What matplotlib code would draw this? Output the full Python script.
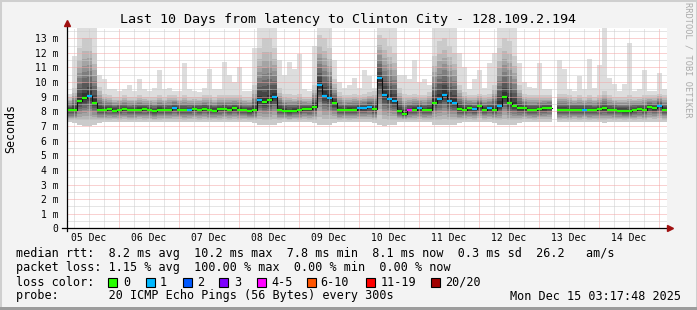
import numpy as np
import matplotlib
matplotlib.use('Agg')
import matplotlib.pyplot as plt
import matplotlib.dates as mdates
from matplotlib.collections import LineCollection
from matplotlib.patches import Rectangle
from matplotlib.ticker import MultipleLocator, FuncFormatter
from datetime import datetime, timedelta

plt.rcParams['font.family'] = 'DejaVu Sans Mono'

W, H = 697, 310

# time range of the graph, one column = 2 hours
start = datetime(2025, 12, 5, 3, 17, 48)
end = datetime(2025, 12, 15, 3, 17, 48)
step_hours = 2

# median rtt per column (ms)
med_ms = [8.07, 8.1, 8.68, 8.9, 9.05, 8.6, 8.12, 8.1, 8.15, 8.05,
          8.12, 8.15, 8.08, 8.1, 8.12, 8.15, 8.1, 8.0, 8.12, 8.1,
          8.1, 8.25, 8.12, 8.1, 8.1, 8.15, 8.12, 8.18, 8.1, 8.05,
          8.15, 8.18, 8.12, 8.2, 8.12, 8.08, 8.05, 8.1, 8.8, 8.65,
          8.75, 8.98, 8.12, 8.05, 8.0, 8.05, 8.08, 8.18, 8.15, 8.3,
          9.8, 9.05, 8.9, 8.55, 8.1, 8.1, 8.12, 8.1, 8.2, 8.2,
          8.3, 8.15, 10.25, 9.1, 8.87, 8.68, 8.05, 7.85, 8.1, 8.12,
          8.2, 8.1, 8.12, 8.6, 8.87, 9.15, 8.7, 8.6, 8.15, 8.12,
          8.2, 8.14, 8.35, 8.12, 8.2, 8.12, 8.4, 8.98, 8.57, 8.4,
          8.2, 8.2, 8.1, 8.1, 8.15, 8.2, 8.25, np.nan, 8.1, 8.1,
          8.1, 8.12, 8.1, 8.12, 8.1, 8.08, 8.15, 8.2, 8.1, 8.1,
          8.05, 8.05, 8.0, 8.1, 8.15, 8.1, 8.3, 8.2, 8.38, 8.12]

# lost pings per column (of 20)
loss = [0, 0, 0, 0, 1, 0, 0, 0, 0, 0,
        0, 0, 0, 0, 0, 0, 0, 0, 0, 0,
        0, 1, 0, 0, 1, 0, 0, 0, 0, 0,
        0, 0, 0, 0, 0, 0, 0, 0, 1, 0,
        0, 1, 0, 0, 0, 0, 0, 0, 0, 0,
        1, 1, 1, 0, 0, 0, 0, 0, 1, 1,
        1, 0, 1, 1, 1, 1, 0, 0, 4, 0,
        1, 0, 0, 0, 1, 1, 1, 1, 0, 0,
        0, 1, 0, 0, 1, 0, 1, 0, 0, 0,
        0, 0, 0, 0, 0, 0, 0, 0, 0, 0,
        0, 0, 0, 1, 0, 0, 0, 0, 0, 0,
        0, 0, 0, 0, 0, 0, 0, 0, 1, 0]

# slowest ping per column (ms)
max_ms = [9.2, 11.8, 13.7, 13.7, 13.7, 13.7, 10.5, 10.2, 9.5, 9.5,
          9.4, 9.5, 9.8, 9.4, 10.2, 9.5, 9.4, 9.6, 10.8, 9.5,
          9.6, 9.4, 9.4, 11.3, 9.5, 9.4, 9.3, 9.6, 10.9, 9.5,
          9.5, 11.35, 10.5, 10.0, 11.0, 9.4, 9.4, 12.3, 13.7, 13.7,
          13.7, 13.7, 11.5, 10.5, 11.36, 10.9, 11.95, 9.5, 9.4, 12.5,
          13.7, 13.7, 13.7, 11.5, 10.0, 9.6, 9.8, 10.3, 9.6, 10.8,
          10.4, 9.6, 13.7, 13.7, 13.7, 13.7, 10.5, 10.5, 10.2, 11.5,
          10.0, 10.2, 9.8, 13.7, 13.7, 13.7, 13.7, 13.7, 12.0, 11.0,
          9.5, 10.2, 10.8, 9.6, 11.3, 12.0, 13.7, 13.7, 13.7, 13.7,
          11.3, 10.0, 9.7, 9.6, 11.3, 9.5, 9.5, np.nan, 11.5, 10.9,
          9.5, 9.4, 10.4, 9.5, 11.55, 9.6, 11.2, 13.7, 10.3, 9.9,
          9.4, 9.9, 12.7, 9.4, 9.5, 10.8, 9.4, 9.4, 10.6, 9.5]

# upper edge of the dense smoke (ms)
upper_ms = [9.0, 9.6, 12.3, 13.0, 13.0, 12.0, 9.7, 9.2, 9.1, 9.0,
            9.0, 9.1, 9.0, 9.0, 9.1, 9.0, 9.0, 9.0, 9.1, 9.0,
            9.1, 9.1, 9.0, 9.1, 9.0, 9.0, 9.0, 9.1, 9.1, 9.0,
            9.1, 9.1, 9.1, 9.1, 9.1, 9.0, 9.0, 9.8, 12.3, 13.0,
            13.0, 12.3, 9.6, 9.2, 9.2, 9.1, 9.2, 9.0, 9.0, 9.8,
            13.2, 13.0, 12.3, 10.2, 9.3, 9.1, 9.1, 9.2, 9.1, 9.2,
            9.3, 9.4, 13.2, 13.0, 12.5, 12.0, 9.6, 9.2, 9.1, 9.2,
            9.1, 9.1, 9.3, 11.8, 12.8, 13.0, 12.5, 12.0, 9.8, 9.3,
            9.1, 9.1, 9.2, 9.1, 9.2, 9.8, 12.3, 13.0, 12.8, 11.8,
            9.8, 9.2, 9.1, 9.1, 9.1, 9.1, 9.1, np.nan, 9.2, 9.2,
            9.1, 9.0, 9.1, 9.0, 9.1, 9.0, 9.1, 9.4, 9.1, 9.0,
            9.0, 9.0, 9.1, 9.0, 9.0, 9.1, 9.1, 9.1, 9.2, 9.1]

# fastest ping per column (ms)
min_ms = [7.25, 7.2, 7.05, 7.0, 7.0, 7.05, 7.2, 7.25, 7.25, 7.3,
          7.25, 7.3, 7.25, 7.25, 7.3, 7.25, 7.3, 7.25, 7.25, 7.3,
          7.3, 7.25, 7.3, 7.25, 7.3, 7.3, 7.25, 7.3, 7.25, 7.3,
          7.25, 7.3, 7.25, 7.3, 7.25, 7.3, 7.25, 7.2, 7.1, 7.05,
          7.05, 7.1, 7.2, 7.3, 7.25, 7.3, 7.25, 7.3, 7.25, 7.2,
          7.05, 7.05, 7.1, 7.2, 7.25, 7.3, 7.25, 7.3, 7.25, 7.3,
          7.25, 7.2, 7.05, 7.0, 7.05, 7.1, 7.25, 7.3, 7.25, 7.25,
          7.3, 7.25, 7.25, 7.1, 7.05, 7.05, 7.05, 7.1, 7.2, 7.25,
          7.3, 7.25, 7.3, 7.25, 7.3, 7.2, 7.1, 7.05, 7.05, 7.1,
          7.2, 7.25, 7.3, 7.25, 7.3, 7.25, 7.3, np.nan, 7.25, 7.3,
          7.25, 7.3, 7.25, 7.3, 7.25, 7.3, 7.25, 7.2, 7.3, 7.25,
          7.3, 7.25, 7.3, 7.25, 7.3, 7.25, 7.3, 7.25, 7.3, 7.25]

loss_legend = ['0', '1', '2', '3', '4-5', '6-10', '11-19', '20/20']
loss_colors = ['#26ff00', '#00b8ff', '#0059ff', '#7e00ff',
               '#ff00ff', '#ff5500', '#ff0000', '#a10000']
loss_limits = [0, 1, 2, 3, 5, 10, 19, 20]

stats_lines = [
    'median rtt:  8.2 ms avg  10.2 ms max  7.8 ms min  8.1 ms now  0.3 ms sd  26.2   am/s',
    'packet loss: 1.15 % avg  100.00 % max  0.00 % min  0.00 % now',
]
probe_line = 'probe:       20 ICMP Echo Pings (56 Bytes) every 300s'
stamp = 'Mon Dec 15 03:17:48 2025'
title = 'Last 10 Days from latency to Clinton City - 128.109.2.194'

med = np.array(med_ms)
top = np.array(max_ms)
hi = np.array(upper_ms)
bot = np.array(min_ms)
n = len(med)
edges = mdates.date2num([start + timedelta(hours=step_hours * i) for i in range(n + 1)])


def steps(vals):
    return np.repeat(edges, 2)[1:-1], np.repeat(vals, 2)


def loss_color(l):
    for lim, c in zip(loss_limits, loss_colors):
        if l <= lim:
            return c
    return loss_colors[-1]


def px(x, y):
    return x / W, 1 - y / H


fig = plt.figure(figsize=(W / 100, H / 100), dpi=100, facecolor='#f3f3f3')
ax = fig.add_axes([67 / W, (H - 228.4) / H, 600 / W, 200.4 / H])
ax.set_facecolor('white')

# smoke: outer band is min..max, then darker bands towards the median
xs, lo = steps(bot)
_, up = steps(top)
ax.fill_between(xs, lo, up, color='#dddddd', lw=0, zorder=1)
for k in range(1, 10):
    f = ((k - 1) / 9) ** 0.7
    g = int(190 / 10 * (10 - k - 1)) + 50
    _, lo = steps(bot + (med - bot) * f)
    _, up = steps(hi - (hi - med) * f)
    ax.fill_between(xs, lo, up, color='#%02x%02x%02x' % (g, g, g), lw=0, zorder=1)

# median line coloured by loss
xm, ym = steps(med)
ax.plot(xm, ym, color='#111111', lw=0.8, zorder=3)
segs = [[(edges[i], med[i]), (edges[i + 1], med[i])] for i in range(n) if not np.isnan(med[i])]
cols = [loss_color(loss[i]) for i in range(n) if not np.isnan(med[i])]
ax.add_collection(LineCollection(segs, colors=cols, linewidths=1.6, capstyle='butt', zorder=4))

ax.set_xlim(mdates.date2num(start), mdates.date2num(end))
ax.set_ylim(0, 13.7)

# grid
ax.xaxis.set_major_locator(mdates.DayLocator())
ax.xaxis.set_minor_locator(mdates.HourLocator(byhour=[6, 12, 18]))
ax.xaxis.set_major_formatter(FuncFormatter(lambda x, p: ''))


def day_label(x, p):
    if abs((x % 1) * 24 - 12) < 0.05:
        return mdates.num2date(np.floor(x)).strftime('%d Dec')
    return ''


ax.xaxis.set_minor_formatter(FuncFormatter(day_label))
ax.yaxis.set_major_locator(MultipleLocator(1))
ax.yaxis.set_minor_locator(MultipleLocator(0.5))
ax.yaxis.set_major_formatter(FuncFormatter(lambda v, p: '0' if v == 0 else '%d m' % v))
ax.set_axisbelow(False)
ax.grid(which='minor', color='#cccccc', lw=0.72, ls=(0, (1, 1)))
ax.grid(which='major', color='#f4a4a4', lw=0.72, ls=(0, (1, 1)))
ax.tick_params(which='both', length=0, labelsize=7, colors='black')
ax.tick_params(axis='x', which='minor', pad=3.5)
ax.tick_params(axis='y', pad=6)
for s in ax.spines.values():
    s.set_visible(False)

# axes with arrow heads
ax.plot([-5 / 600, 603 / 600], [0, 0], transform=ax.transAxes, color='black', lw=0.9, clip_on=False, zorder=5)
ax.plot([0, 0], [-3 / 200.4, 205 / 200.4], transform=ax.transAxes, color='black', lw=0.9, clip_on=False, zorder=5)
ax.plot([603 / 600], [0], marker='>', ms=4, color='#a01010', transform=ax.transAxes, clip_on=False, zorder=6)
ax.plot([0], [205 / 200.4], marker='^', ms=4, color='#a01010', transform=ax.transAxes, clip_on=False, zorder=6)

ax.set_ylabel('Seconds', fontsize=8.4, labelpad=13)

fig.text(*px(348, 19), title, ha='center', va='center', fontsize=9.6)
fig.text(*px(688, 60), 'RRDTOOL / TOBI OETIKER', rotation=270, ha='center', va='center',
         fontsize=6.2, color='#aaaaaa')

# legend / stats lines
for line, y in zip(stats_lines, [254, 268]):
    fig.text(*px(16, y), line, ha='left', va='center', fontsize=8.5)
fig.text(*px(16, 282), 'loss color:', ha='left', va='center', fontsize=8.5)
box_x = [108, 146, 183, 219, 257, 307, 366, 431]
lab_x = [123, 160, 197, 234, 271, 320, 381, 445]
for lab, c, bx, lx in zip(loss_legend, loss_colors, box_x, lab_x):
    fig.patches.append(Rectangle(px(bx, 286.5), 8.5 / W, 9 / H, transform=fig.transFigure,
                                 facecolor=c, edgecolor='black', lw=0.8))
    fig.text(*px(lx, 282), lab, ha='left', va='center', fontsize=8.5)
fig.text(*px(16, 296), probe_line, ha='left', va='center', fontsize=8.5)
fig.text(*px(681, 296), stamp, ha='right', va='center', fontsize=8.5)

# frame around the image
fig.patches.append(Rectangle((0, 0), 1, 1, transform=fig.transFigure, fill=False,
                             edgecolor='#cfcfcf', lw=2.2))
fig.patches.append(Rectangle((0, 0), 1, 3 / H, transform=fig.transFigure,
                             facecolor='#9c9c9c', lw=0))

fig.savefig('out.png', dpi=100, facecolor=fig.get_facecolor())
